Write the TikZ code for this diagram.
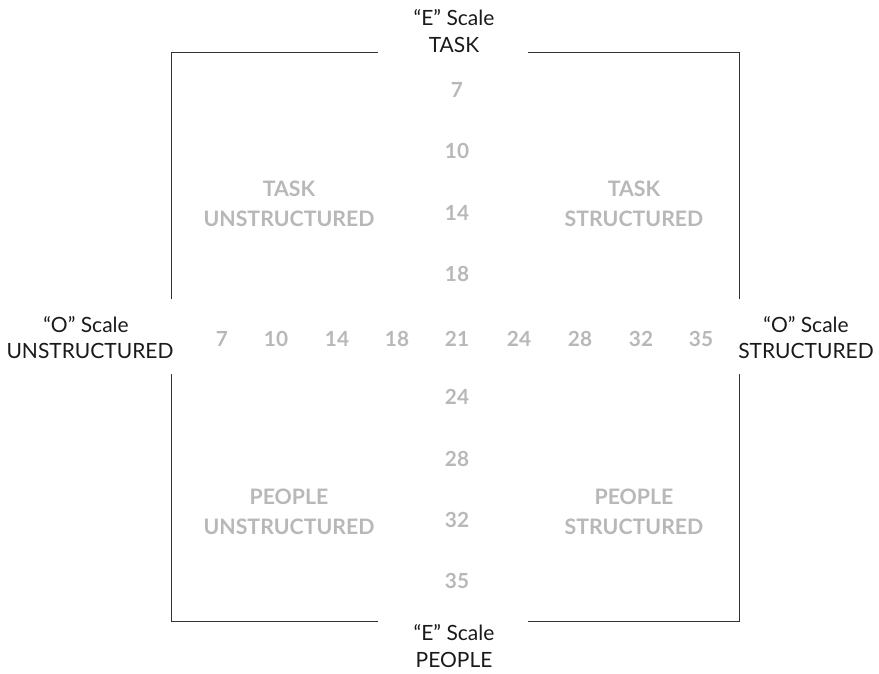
\documentclass[tikz,border=0pt]{standalone}
\usepackage{fontspec}
\setmainfont{Lato}
\definecolor{frame}{HTML}{333333}
\definecolor{numgray}{HTML}{B8B8B8}
\definecolor{txt}{HTML}{1A1A1A}
\tikzset{
  x=1pt, y=-1pt,
  axislabel/.style={anchor=base, text=txt, font=\fontsize{21}{26}\selectfont, inner sep=0pt},
  numlabel/.style={anchor=base, text=numgray, font=\fontsize{20.8}{26}\selectfont\bfseries, inner sep=0pt},
  quadlabel/.style={anchor=base, text=numgray, font=\fontsize{21.3}{26}\selectfont\bfseries, inner sep=0pt},
  frameline/.style={draw=frame, line width=1pt},
}
\begin{document}
\begin{tikzpicture}
\useasboundingbox (0,0) rectangle (879,673);
% corners and gap ends
\coordinate (tl) at (171,52);
\coordinate (tr) at (739,52);
\coordinate (bl) at (171,621);
\coordinate (br) at (739,621);
\coordinate (tgl) at (378,52);
\coordinate (tgr) at (528,52);
\coordinate (bgl) at (378,621);
\coordinate (bgr) at (528,621);
\coordinate (lgt) at (171,299);
\coordinate (lgb) at (171,374);
\coordinate (rgt) at (739,299);
\coordinate (rgb) at (739,374);
\draw[frameline] (tgl) -- (tl) -- (lgt);
\draw[frameline] (tgr) -- (tr) -- (rgt);
\draw[frameline] (lgb) -- (bl) -- (bgl);
\draw[frameline] (rgb) -- (br) -- (bgr);
% axis labels
\node[axislabel] (etop1) at (454,25) {“E” Scale};
\node[axislabel] (etop2) at (454,52) {TASK};
\node[axislabel] (ebot1) at (454,640) {“E” Scale};
\node[axislabel] (ebot2) at (454,667) {PEOPLE};
\node[axislabel] (oleft1) at (86,332) {“O” Scale};
\node[axislabel] (oleft2) at (90,358) {UNSTRUCTURED};
\node[axislabel] (oright1) at (806,332) {“O” Scale};
\node[axislabel] (oright2) at (806,358) {STRUCTURED};
% horizontal numbers
\node[numlabel] (h7) at (222,346) {7};
\node[numlabel] (h10) at (276,346) {10};
\node[numlabel] (h14) at (337,346) {14};
\node[numlabel] (h18) at (397,346) {18};
\node[numlabel] (h21) at (457,346) {21};
\node[numlabel] (h24) at (519,346) {24};
\node[numlabel] (h28) at (580,346) {28};
\node[numlabel] (h32) at (641,346) {32};
\node[numlabel] (h35) at (701,346) {35};
% vertical numbers
\node[numlabel] (v7) at (457,97) {7};
\node[numlabel] (v10) at (457,158) {10};
\node[numlabel] (v14) at (457,220) {14};
\node[numlabel] (v18) at (457,281) {18};
\node[numlabel] (v24) at (457,404) {24};
\node[numlabel] (v28) at (457,466) {28};
\node[numlabel] (v32) at (457,527) {32};
\node[numlabel] (v35) at (457,588) {35};
% quadrant labels
\node[quadlabel] (q1a) at (289,196) {TASK};
\node[quadlabel] (q1b) at (289,226) {UNSTRUCTURED};
\node[quadlabel] (q2a) at (634,196) {TASK};
\node[quadlabel] (q2b) at (634,226) {STRUCTURED};
\node[quadlabel] (q3a) at (289,504) {PEOPLE};
\node[quadlabel] (q3b) at (289,534) {UNSTRUCTURED};
\node[quadlabel] (q4a) at (634,504) {PEOPLE};
\node[quadlabel] (q4b) at (634,534) {STRUCTURED};
\end{tikzpicture}
\end{document}
